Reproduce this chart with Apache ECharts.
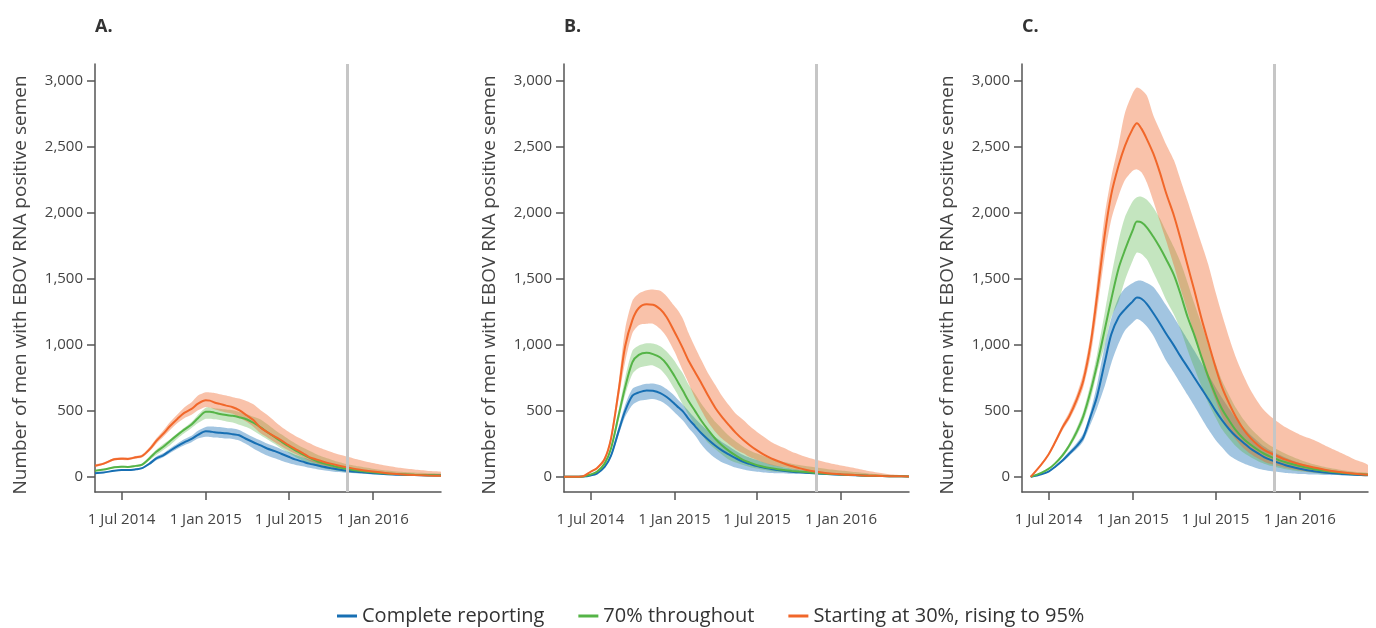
<!DOCTYPE html>
<html>
<head>
<meta charset="utf-8">
<script src="https://cdn.jsdelivr.net/npm/echarts@6/dist/echarts.min.js"></script>
<style>html,body{margin:0;padding:0;background:#fff;}#chart{width:1376px;height:628px;}</style>
</head>
<body>
<div id="chart"></div>
<script>
const DATES = ['2014-05-04','2014-05-23','2014-06-15','2014-07-01','2014-07-15','2014-08-01','2014-08-15','2014-09-01','2014-09-15','2014-10-01','2014-10-15','2014-11-01','2014-11-15','2014-12-01','2014-12-15','2015-01-01','2015-01-10','2015-01-20','2015-02-01','2015-02-15','2015-03-01','2015-03-15','2015-04-01','2015-04-15','2015-05-01','2015-05-15','2015-06-01','2015-06-15','2015-07-01','2015-07-15','2015-08-01','2015-08-15','2015-09-01','2015-09-15','2015-10-01','2015-10-15','2015-11-01','2015-12-01','2016-01-01','2016-02-01','2016-03-01','2016-04-01','2016-05-01','2016-05-29'];
const X_TICKS = ['2014-07-01','2015-01-01','2015-07-01','2016-01-01'];
const Y_TICKS = [0,500,1000,1500,2000,2500,3000];
const END_LINE = '2015-11-07';
const SCENARIOS = ['Complete reporting','70% throughout','Starting at 30%, rising to 95%'];
const PANELS = ['A.','B.','C.'];

// Panel A
const A_blue_mid = [27,33,46,51,51,57,66,102,140,165,198,235,262,287,318,345,344,338,334,330,323,315,285,262,238,215,195,175,152,132,115,100,88,76,66,57,48,36,27,20,16,13,11,10];
const A_blue_hi  = [30,36,50,56,56,62,72,112,154,180,215,255,285,312,350,378,381,380,377,370,366,355,325,300,275,252,230,210,188,168,148,132,116,103,90,80,68,52,40,31,25,20,17,15];
const A_blue_lo  = [24,30,42,46,46,52,60,92,125,150,180,215,240,262,290,303,302,298,295,290,287,275,245,215,185,162,140,122,105,92,80,68,58,50,42,36,31,25,19,15,12,10,9,8];
const A_green_mid = [46,55,72,77,75,83,92,143,190,230,272,320,358,397,444,493,494,487,476,468,463,452,435,410,375,340,300,268,232,202,170,145,118,102,88,75,63,46,35,26,20,15,12,10];
const A_green_hi  = [50,60,78,84,82,90,100,158,205,250,285,335,372,415,470,524,526,520,516,510,505,492,475,455,435,400,355,322,285,255,222,198,170,150,132,116,100,80,62,48,38,32,27,23];
const A_green_lo  = [42,50,66,70,68,76,84,128,165,205,240,292,330,370,408,440,440,436,430,420,412,395,375,350,315,285,248,215,182,152,122,100,80,66,55,46,38,27,20,15,12,10,8,7];
const A_orange_mid = [84,100,133,138,136,148,158,212,272,330,385,443,485,515,555,581,578,564,553,540,528,505,465,430,372,340,305,277,240,212,180,150,130,115,100,88,75,55,40,28,20,14,10,8];
const A_orange_hi  = [92,108,142,148,146,158,170,228,292,355,415,476,526,565,616,641,640,636,627,617,604,594,573,550,505,470,420,380,342,312,282,256,228,210,190,173,158,130,105,84,68,55,45,38];
const A_orange_lo  = [76,92,124,128,126,138,146,195,250,305,355,410,445,470,505,530,525,512,500,488,478,450,415,380,330,300,262,232,200,175,148,122,102,88,74,63,53,38,27,19,14,10,8,6];

// Panel B
const B_blue_mid = [0,0,2,10,25,75,160,350,500,615,640,655,652,635,605,555,525,495,440,385,330,285,235,200,168,142,114,98,81,70,60,52,44,39,34,31,27,21,16,12,8,6,4,3];
const B_blue_hi  = [0,0,3,12,28,82,175,380,545,668,690,705,708,695,665,615,580,545,500,445,395,350,300,265,230,198,165,145,127,110,93,82,71,62,54,48,41,32,24,18,13,9,6,4];
const B_blue_lo  = [0,0,1,8,22,68,145,320,455,545,575,585,590,575,545,490,460,425,370,315,245,190,140,110,88,70,56,46,38,33,29,27,26,24,23,22,21,18,14,10,7,5,3,2];
const B_green_mid = [0,0,3,18,38,100,215,470,680,870,925,940,930,905,855,765,710,650,575,500,425,360,287,240,195,162,127,108,88,77,66,58,50,45,40,36,31,24,18,13,9,6,4,3];
const B_green_hi  = [0,0,4,20,42,110,235,510,750,955,995,1012,1010,990,950,880,830,780,700,630,555,490,415,365,310,270,228,200,176,158,138,124,110,100,90,82,75,60,48,36,26,17,10,5];
const B_green_lo  = [0,0,2,16,34,90,195,430,620,780,825,840,845,815,760,665,610,545,470,395,325,260,210,170,130,108,89,75,63,53,43,38,35,32,29,27,25,20,15,11,8,5,4,2];
const B_orange_mid = [0,0,5,38,65,135,290,660,990,1190,1280,1308,1305,1270,1210,1100,1040,970,880,795,710,620,520,455,390,335,279,240,200,170,140,120,97,82,66,54,42,28,19,13,9,6,4,3];
const B_orange_hi  = [0,0,6,42,72,150,320,720,1120,1335,1390,1415,1420,1410,1370,1295,1255,1195,1090,985,885,790,695,615,540,480,431,385,340,305,265,240,215,190,170,152,135,108,85,65,45,28,15,5];
const B_orange_lo  = [0,0,4,34,58,120,260,600,870,1090,1150,1160,1160,1120,1060,950,880,800,710,600,505,420,340,290,245,210,178,150,127,108,90,80,72,60,50,44,37,27,19,13,9,6,4,2];

// Panel C
const C_blue_mid = [null,0,20,40,75,125,175,235,300,460,610,870,1080,1210,1270,1330,1360,1350,1310,1240,1165,1085,995,915,830,755,665,590,500,430,355,305,255,215,180,150,125,88,62,42,30,22,16,12];
const C_blue_hi  = [null,0,22,44,82,138,192,258,330,500,700,1000,1200,1360,1430,1470,1485,1487,1470,1440,1375,1300,1210,1130,1040,960,860,775,680,600,510,440,370,320,270,230,195,145,105,75,55,40,30,24];
const C_blue_lo  = [null,0,18,36,68,112,158,212,270,400,520,690,860,1010,1110,1170,1196,1180,1140,1070,975,880,790,710,620,540,440,360,280,225,160,130,102,82,63,52,42,30,22,17,13,10,8,6];
const C_green_mid = [null,0,30,60,100,165,235,345,460,650,850,1120,1345,1580,1720,1870,1935,1930,1890,1820,1740,1650,1530,1390,1210,1080,900,760,620,515,420,350,285,245,205,175,148,110,82,58,42,30,22,16];
const C_green_hi  = [null,0,32,65,108,180,255,375,500,710,930,1250,1520,1790,1970,2090,2120,2124,2100,2040,1960,1860,1740,1630,1470,1320,1150,1010,860,730,610,520,430,370,315,270,230,175,130,95,70,52,38,28];
const C_green_lo  = [null,0,28,55,92,150,215,315,420,590,790,1000,1210,1330,1490,1640,1700,1690,1647,1550,1450,1340,1230,1120,960,830,680,560,450,360,285,230,180,150,120,100,82,58,42,30,21,15,11,8];
const C_orange_mid = [null,0,93,170,260,378,458,590,730,1010,1370,1840,2140,2360,2510,2640,2681,2640,2559,2450,2310,2150,1980,1810,1600,1420,1190,1020,830,680,545,450,355,295,241,205,175,130,95,70,50,35,24,16];
const C_orange_hi  = [null,0,100,180,275,400,490,630,790,1080,1480,1990,2270,2520,2760,2910,2952,2935,2889,2740,2630,2520,2400,2255,2090,1940,1760,1610,1400,1230,1040,900,760,660,570,505,450,375,320,280,230,180,130,90];
const C_orange_lo  = [null,0,85,160,245,355,430,550,680,920,1250,1680,1950,2130,2250,2320,2331,2310,2230,2090,1940,1790,1600,1430,1250,1080,880,730,580,460,350,280,215,175,140,115,95,68,48,34,24,17,12,8];

const PANEL_DATA = [
  [[A_blue_lo,A_blue_mid,A_blue_hi],[A_green_lo,A_green_mid,A_green_hi],[A_orange_lo,A_orange_mid,A_orange_hi]],
  [[B_blue_lo,B_blue_mid,B_blue_hi],[B_green_lo,B_green_mid,B_green_hi],[B_orange_lo,B_orange_mid,B_orange_hi]],
  [[C_blue_lo,C_blue_mid,C_blue_hi],[C_green_lo,C_green_mid,C_green_hi],[C_orange_lo,C_orange_mid,C_orange_hi]]
];

const LINE_COLORS = ['#176fb3','#55b447','#f1672a'];
const BAND_COLORS = ['rgba(23,111,179,0.4)','rgba(85,180,71,0.35)','rgba(241,103,42,0.4)'];
const GRID_LEFT = [95, 564, 1022];
const GRID_WIDTH = [346, 345, 346];
const FONT = '"Open Sans", "Noto Sans", sans-serif';
const MONTHS = ['Jan','Feb','Mar','Apr','May','Jun','Jul','Aug','Sep','Oct','Nov','Dec'];

const ts = d => Date.parse(d);
const pair = vals => DATES.map((d, i) => [ts(d), vals[i] == null ? null : vals[i]]);

// band drawn as one polygon through the library's coordinate conversion
function bandSeries(p, lo, hi, color) {
  const rows = [];
  DATES.forEach((d, i) => { if (lo[i] != null && hi[i] != null) rows.push([ts(d), lo[i], hi[i]]); });
  return {
    type: 'custom', xAxisIndex: p, yAxisIndex: p, silent: true, clip: true,
    data: rows,
    encode: {x: 0, y: [1, 2]},
    renderItem: function (params, api) {
      if (params.dataIndex !== 0) return null;
      const upper = rows.map(r => api.coord([r[0], r[2]]));
      const lower = rows.slice().reverse().map(r => api.coord([r[0], r[1]]));
      return {
        type: 'polygon',
        shape: {points: upper.concat(lower), smooth: 0.25},
        style: {fill: color, stroke: null}
      };
    }
  };
}

const grids = [], xAxes = [], yAxes = [], series = [], titles = [];
for (let p = 0; p < 3; p++) {
  grids.push({left: GRID_LEFT[p], top: 64, width: GRID_WIDTH[p], height: 428, containLabel: false});
  titles.push({text: PANELS[p], left: GRID_LEFT[p], top: 18, padding: 0,
    textStyle: {fontFamily: FONT, fontSize: 18, fontWeight: 'bold', color: '#333'}});
  xAxes.push({
    type: 'value', gridIndex: p, min: ts('2014-05-04'), max: ts('2016-05-29'),
    splitLine: {show: false},
    axisLine: {show: true, onZero: false, lineStyle: {color: '#555', width: 1.5}},
    axisTick: {show: true, length: 8, lineStyle: {color: '#555', width: 1.5}, customValues: X_TICKS.map(ts)},
    axisLabel: {show: true, margin: 20, fontFamily: FONT, fontSize: 15, color: '#444',
      customValues: X_TICKS.map(ts),
      formatter: v => { const d = new Date(v); return d.getUTCDate() + ' ' + MONTHS[d.getUTCMonth()] + ' ' + d.getUTCFullYear(); }}
  });
  yAxes.push({
    type: 'value', gridIndex: p, min: -115, max: 3130,
    name: 'Number of men with EBOV RNA positive semen', nameLocation: 'middle', nameGap: 65, nameRotate: 90,
    nameTextStyle: {fontFamily: FONT, fontSize: 19, color: '#444', padding: [0, 14, 0, 0]},
    splitLine: {show: false},
    axisLine: {show: true, onZero: false, lineStyle: {color: '#555', width: 1.5}},
    axisTick: {show: true, length: 8, lineStyle: {color: '#555', width: 1.5}, customValues: Y_TICKS},
    axisLabel: {show: true, margin: 12, fontFamily: FONT, fontSize: 15, color: '#444', customValues: Y_TICKS,
      formatter: v => v.toLocaleString('en-US')}
  });
  for (let s = 0; s < 3; s++) {
    const [lo, mid, hi] = PANEL_DATA[p][s];
    const band = bandSeries(p, lo, hi, BAND_COLORS[s]);
    if (s === 0) {
      band.markLine = {
        silent: true, symbol: ['none','none'], label: {show: false},
        lineStyle: {color: '#c6c6c6', width: 3, type: 'solid'},
        data: [{xAxis: ts(END_LINE)}]
      };
    }
    series.push(band);
    series.push({
      type: 'line', name: SCENARIOS[s], xAxisIndex: p, yAxisIndex: p,
      data: pair(mid), symbol: 'none', smooth: 0.3,
      lineStyle: {color: LINE_COLORS[s], width: 2},
      itemStyle: {color: LINE_COLORS[s]}
    });
  }
}

const chart = echarts.init(document.getElementById('chart'));
chart.setOption({
  animation: false,
  backgroundColor: '#fff',
  textStyle: {fontFamily: FONT},
  title: titles,
  grid: grids,
  xAxis: xAxes,
  yAxis: yAxes,
  legend: {
    data: SCENARIOS, top: 601, left: 332, icon: 'rect', itemWidth: 20, itemHeight: 3, itemGap: 34,
    textStyle: {fontFamily: FONT, fontSize: 20, color: '#333'}
  },
  series: series
});
</script>
</body>
</html>
